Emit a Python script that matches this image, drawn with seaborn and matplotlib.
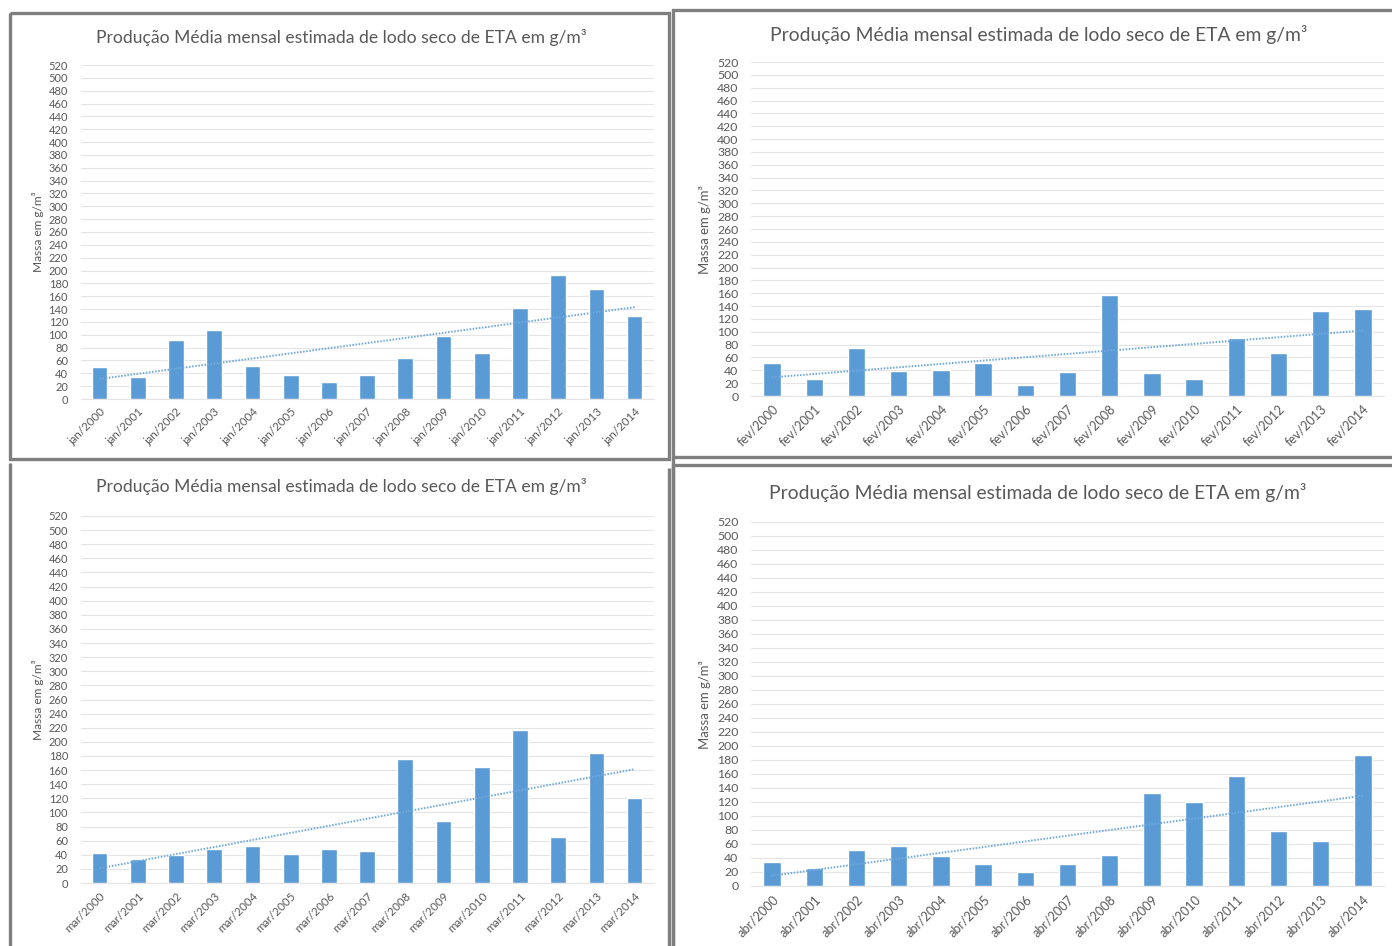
import numpy as np
import pandas as pd
import matplotlib
matplotlib.use("Agg")
import matplotlib.pyplot as plt
from matplotlib.lines import Line2D
import seaborn as sns

# Monthly average dry sludge production (g/m³), one series per month
years = list(range(2000, 2015))
jan = [50, 35, 92, 107, 52, 37, 26, 38, 64, 98, 72, 142, 193, 171, 129]
fev = [51, 26, 75, 39, 41, 52, 17, 37, 157, 36, 27, 91, 67, 132, 135]
mar = [42, 34, 40, 48, 53, 41, 48, 46, 175, 88, 164, 217, 65, 184, 121]
abr = [35, 26, 51, 57, 43, 32, 20, 31, 44, 133, 120, 157, 78, 64, 187]

title = "Produção Média mensal estimada de lodo seco de ETA em g/m³"
ylabel = "Massa em g/m³"
yticks = list(range(0, 521, 20))

BAR = "#5B9BD5"
TXT = "#595959"
GRID = "#E4E4E4"
FRAME = "#7F7F7F"

sns.set_theme(style="white")
plt.rcParams["font.family"] = ["Lato", "DejaVu Sans"]

W, H = 1392, 946
fig = plt.figure(figsize=(W / 100, H / 100), dpi=100)


def px_axes(x0, y0, x1, y1):
    return fig.add_axes([x0 / W, 1 - y1 / H, (x1 - x0) / W, (y1 - y0) / H])


# (month prefix, values, plot box in pixels, title centre, y-label centre,
#  text scale)
panels = [
    ("jan", jan, (80.5, 65, 653.7, 399), (341, 38), (38, 232), 1.0),
    ("fev", fev, (751, 62, 1384, 396), (1039, 35), (705, 229), 1.1),
    ("mar", mar, (80.5, 516, 653.7, 883), (341, 486), (38, 700), 1.0),
    ("abr", abr, (751, 522, 1384, 886), (1038, 492), (705, 704), 1.1),
]

for prefix, vals, box, tpos, lpos, k in panels:
    ax = px_axes(*box)
    labels = [f"{prefix}/{y}" for y in years]
    df = pd.DataFrame({"mes": labels, "massa": vals})
    sns.barplot(data=df, x="mes", y="massa", color=BAR, width=0.41,
                saturation=1, ax=ax, zorder=3)
    # linear trend line over the series
    sns.regplot(x=np.arange(len(vals)), y=np.array(vals, dtype=float),
                scatter=False, ci=None, truncate=True, ax=ax,
                line_kws=dict(color="#6FA8DC", lw=1.4, ls=(0, (0.8, 0.8)),
                              zorder=4))
    ax.set_xlim(-0.5, len(vals) - 0.5)
    ax.set_ylim(0, 520)
    ax.set_yticks(yticks)
    ax.set_xticks(range(len(vals)))
    ax.set_xticklabels(labels, rotation=45, ha="right", rotation_mode="anchor")
    ax.set_xlabel("")
    ax.set_ylabel("")
    ax.yaxis.grid(True, color=GRID, lw=0.8, zorder=0)
    ax.xaxis.grid(False)
    for s in ["left", "right", "top"]:
        ax.spines[s].set_visible(False)
    ax.spines["bottom"].set_color(GRID)
    ax.spines["bottom"].set_linewidth(0.8)
    ax.tick_params(axis="both", length=0, colors=TXT)
    ax.tick_params(axis="y", labelsize=8 * k, pad=9)
    ax.tick_params(axis="x", labelsize=8.3 * k, pad=5)
    ax.set_facecolor("white")

    fig.text(tpos[0] / W, 1 - tpos[1] / H, title, ha="center", va="center",
             fontsize=12.6 * k, color=TXT)
    fig.text(lpos[0] / W, 1 - lpos[1] / H, ylabel, ha="center", va="center",
             rotation=90, fontsize=8.6 * k, color=TXT)

# panel frames drawn in pixel space on a transparent overlay
ov = fig.add_axes([0, 0, 1, 1], facecolor="none")
ov.set_xlim(0, W)
ov.set_ylim(H, 0)
ov.axis("off")
frames = [
    [(10, 13), (669, 13), (669, 459), (10, 459), (10, 13)],
    [(673, 960), (673, 10), (1400, 10)],
    [(673, 457), (1400, 457)],
    [(10, 960), (10, 463)],
    [(669, 468), (669, 960)],
    [(673, 960), (673, 465), (1400, 465)],
]
for pts in frames:
    xs, ys = zip(*pts)
    ov.add_line(Line2D(xs, ys, color=FRAME, lw=2.4, solid_capstyle="butt",
                       solid_joinstyle="miter"))

fig.savefig("out.png", dpi=100, facecolor="white")
